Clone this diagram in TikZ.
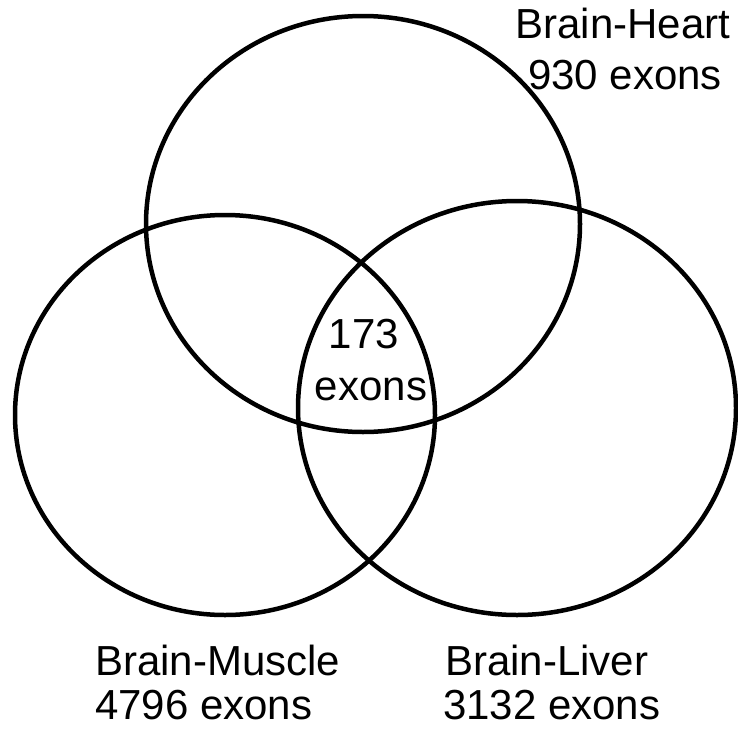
\documentclass[tikz,border=0pt]{standalone}
\usepackage{fontspec}
\setmainfont{Liberation Sans}
\begin{document}
\begin{tikzpicture}[x=1pt,y=-1pt,
  ring/.style={line width=4.5pt},
  lbl/.style={inner sep=0pt,anchor=base,font=\fontsize{42}{42}\selectfont}]
\useasboundingbox (0,0) rectangle (738,728);
\fill[white] (0,0) rectangle (738,728);
\draw[ring] (363,224) ellipse [x radius=217, y radius=208];
\draw[ring] (225,415) ellipse [x radius=210, y radius=200];
\draw[ring] (517,408) ellipse [x radius=219, y radius=207];
\node[lbl] (h1) at (623,38) {Brain-Heart};
\node[lbl] (h2) at (625,89) {930 exons};
\node[lbl,anchor=base west] (m1) at (95,675) {Brain-Muscle};
\node[lbl,anchor=base west] (m2) at (95,719) {4796 exons};
\node[lbl,anchor=base west] (l1) at (445,675) {Brain-Liver};
\node[lbl,anchor=base west] (l2) at (443,719) {3132 exons};
\node[lbl] (c1) at (364,348) {173};
\node[lbl] (c2) at (371,400) {exons};
\end{tikzpicture}
\end{document}
